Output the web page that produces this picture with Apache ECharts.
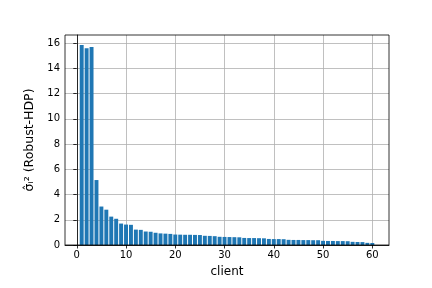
<!DOCTYPE html>
<html><head><meta charset="utf-8">
<script src="https://cdn.jsdelivr.net/npm/echarts@6/dist/echarts.min.js"></script>
<style>html,body{margin:0;padding:0;background:#fff}#c{width:432px;height:288px}</style>
</head><body><div id="c"></div>
<script>
const clients = Array.from({length:60},(_,i)=>i+1);
const sigma2 = [15.85,15.6,15.7,5.15,3.05,2.8,2.25,2.08,1.7,1.62,
1.6,1.22,1.2,1.07,1.05,0.97,0.92,0.9,0.88,0.83,
0.82,0.81,0.81,0.8,0.79,0.73,0.72,0.7,0.65,0.64,
0.63,0.62,0.61,0.56,0.55,0.55,0.54,0.53,0.48,0.47,
0.47,0.46,0.41,0.4,0.4,0.39,0.39,0.38,0.38,0.33,
0.32,0.32,0.31,0.31,0.3,0.25,0.24,0.23,0.17,0.16];
const xTicks = [0,10,20,30,40,50,60];
const yTicks = [0,2,4,6,8,10,12,14,16];

const chart = echarts.init(document.getElementById('c'));
const axisTxt = {color:'#000', fontSize:10, fontFamily:'DejaVu Sans'};
chart.setOption({
  animation:false,
  grid:{left:65,right:43,top:35,bottom:43,containLabel:false},
  xAxis:{type:'value',min:-2.39,max:63.39,
    name:'client',nameLocation:'middle',nameGap:21,
    nameTextStyle:{color:'#000',fontSize:12,fontFamily:'DejaVu Sans'},
    axisLine:{onZero:false,lineStyle:{color:'#000',width:0.8}},
    axisTick:{show:true,length:3.5,customValues:xTicks,lineStyle:{color:'#000',width:0.8}},
    axisLabel:Object.assign({customValues:xTicks,margin:5},axisTxt),
    splitLine:{show:true,lineStyle:{color:'#b0b0b0',width:0.8}}
  },
  yAxis:{type:'value',min:0,max:16.65,
    name:'σ̂ᵢ² (Robust-HDP)',nameLocation:'middle',nameGap:29,nameRotate:90,
    nameTextStyle:{color:'#000',fontSize:12.5,fontFamily:'DejaVu Sans'},
    axisLine:{show:true,lineStyle:{color:'#000',width:0.8}},
    axisTick:{show:true,length:3.5,customValues:yTicks,lineStyle:{color:'#000',width:0.8}},
    axisLabel:Object.assign({customValues:yTicks,margin:5},axisTxt),
    splitLine:{show:true,lineStyle:{color:'#b0b0b0',width:0.8}}
  },
  series:[{type:'bar',data:clients.map((c,i)=>[c,sigma2[i]]),barWidth:'80%',
    itemStyle:{color:'#1f77b4'}}]
});
const g = chart.getModel().getComponent('grid').coordinateSystem.getRect();
chart.setOption({graphic:[{type:'rect',shape:{x:g.x,y:g.y,width:g.width,height:g.height},
  style:{fill:null,stroke:'#000',lineWidth:0.8},silent:true,z:10}]});
</script></body></html>
